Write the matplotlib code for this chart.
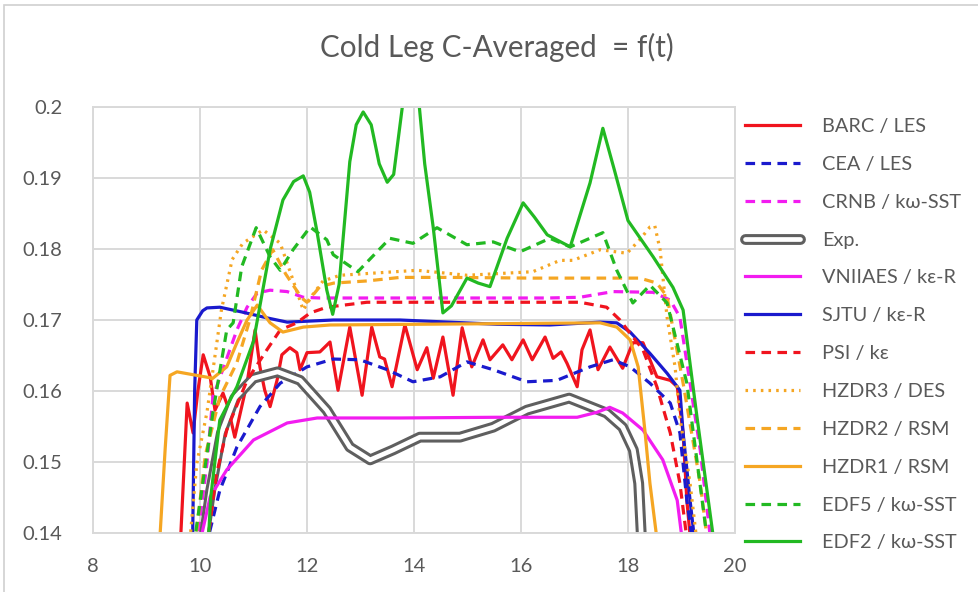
import matplotlib
matplotlib.use("Agg")
import matplotlib.pyplot as plt
from matplotlib.patches import Rectangle
from matplotlib.legend_handler import HandlerBase
from matplotlib.lines import Line2D

plt.rcParams['font.family'] = ['Lato', 'DejaVu Sans']

TXT = '#595959'
GRID = '#d9d9d9'

# ---- data: time t [s] and cold-leg averaged concentration C ----
barc_t = [9.63, 9.76, 9.87, 9.96, 10.06, 10.19, 10.28, 10.43, 10.52, 10.65, 10.88, 11.03, 11.12,
          11.21, 11.31, 11.44, 11.53, 11.68, 11.81, 11.87, 12.0, 12.24, 12.43, 12.58, 12.8, 13.03,
          13.21, 13.36, 13.45, 13.59, 13.83, 14.06, 14.24, 14.36, 14.54, 14.73, 14.9, 15.08, 15.29,
          15.42, 15.66, 15.83, 16.04, 16.21, 16.45, 16.6, 16.75, 16.86, 17.05, 17.14, 17.29, 17.44,
          17.66, 17.9, 18.09, 18.28, 18.54, 18.79, 18.92, 19.03, 19.1, 19.18]
barc_c = [0.138, 0.1583, 0.1541, 0.160, 0.1651, 0.162, 0.1573, 0.1597, 0.1578, 0.1535, 0.1611,
          0.1686, 0.1634, 0.1601, 0.1578, 0.1615, 0.1651, 0.1661, 0.1654, 0.163, 0.1654, 0.1655,
          0.1669, 0.1601, 0.169, 0.1594, 0.169, 0.1648, 0.1645, 0.1606, 0.1693, 0.163, 0.1661,
          0.1618, 0.1676, 0.1594, 0.1689, 0.1634, 0.1672, 0.1644, 0.1665, 0.1644, 0.1672, 0.1644,
          0.1676, 0.1646, 0.1655, 0.1639, 0.1606, 0.1658, 0.1686, 0.163, 0.1662, 0.1632, 0.1668,
          0.1668, 0.162, 0.1615, 0.1606, 0.1541, 0.1446, 0.138]

cea_t = [10.11, 10.37, 10.69, 11.12, 11.5, 12.0, 12.49, 12.99, 13.5, 13.98, 14.49, 14.99, 15.48,
         16.11, 16.67, 17.29, 17.72, 18.04, 18.41, 18.79, 18.97, 19.1, 19.22]
cea_c = [0.138, 0.146, 0.1521, 0.1578, 0.1611, 0.1634, 0.1645, 0.1644, 0.163, 0.1613, 0.162, 0.1641,
         0.163, 0.1613, 0.1615, 0.1634, 0.1644, 0.1634, 0.1611, 0.1583, 0.1541, 0.1446, 0.138]

crnb_t = [9.93, 10.13, 10.24, 10.69, 10.88, 11.07, 11.31, 11.63, 11.93, 12.24, 13.5, 15.0, 16.5,
          17.1, 17.72, 18.47, 18.79, 18.97, 19.16, 19.35, 19.56]
crnb_c = [0.138, 0.1498, 0.1591, 0.1686, 0.1718, 0.1738, 0.1742, 0.174, 0.1732, 0.1731, 0.1731,
          0.1731, 0.1731, 0.1732, 0.174, 0.1739, 0.1728, 0.1704, 0.1611, 0.1517, 0.138]

exp_t = [10.05, 10.2, 10.4, 10.65, 11.0, 11.45, 11.87, 12.37, 12.8, 13.18, 13.61, 14.11, 14.86,
         15.48, 16.11, 16.9, 17.6, 17.9, 18.1, 18.2, 18.26]
exp_c = [0.138, 0.146, 0.1541, 0.159, 0.1618, 0.1627, 0.1615, 0.1573, 0.1521, 0.1503, 0.1517,
         0.1535, 0.1535, 0.1549, 0.1573, 0.159, 0.1569, 0.1549, 0.1517, 0.147, 0.138]

vni_t = [9.98, 10.19, 10.5, 11.0, 11.63, 12.19, 13.74, 15.55, 17.05, 17.42, 17.66, 17.9, 18.28,
         18.65, 18.92, 19.03]
vni_c = [0.138, 0.1451, 0.1489, 0.1531, 0.1555, 0.1562, 0.1562, 0.1563, 0.1563, 0.157, 0.1577,
         0.1569, 0.1545, 0.1503, 0.1446, 0.138]

sjtu_t = [9.86, 9.9, 9.94, 10.05, 10.13, 10.37, 10.8, 11.25, 11.63, 12.49, 13.74, 15.55, 16.54,
          17.48, 17.79, 18.04, 18.41, 18.73, 18.97, 19.03, 19.16, 19.26]
sjtu_c = [0.138, 0.160, 0.170, 0.1713, 0.1717, 0.1718, 0.1711, 0.1703, 0.1697, 0.170, 0.170,
          0.1694, 0.1693, 0.1697, 0.1696, 0.1683, 0.1653, 0.1625, 0.1601, 0.1541, 0.1446, 0.138]

psi_t = [10.13, 10.3, 10.5, 10.88, 11.25, 11.5, 11.81, 12.06, 12.37, 13.12, 15.0, 17.1, 17.6,
         17.85, 18.0, 18.28, 18.54, 18.79, 18.97, 19.12]
psi_c = [0.138, 0.148, 0.1545, 0.1615, 0.1658, 0.1686, 0.1696, 0.171, 0.1718, 0.1725, 0.1725,
         0.1725, 0.1718, 0.170, 0.1685, 0.1658, 0.1606, 0.1541, 0.147, 0.138]

hz3_t = [9.8, 9.94, 10.13, 10.3, 10.4, 10.6, 10.8, 11.18, 11.5, 11.74, 11.93, 12.1, 12.3, 12.62,
         14.06, 14.99, 16.22, 16.73, 16.97, 17.48, 17.98, 18.22, 18.41, 18.5, 18.6, 18.73, 18.88,
         18.97, 19.16, 19.3]
hz3_c = [0.138, 0.1498, 0.157, 0.166, 0.1714, 0.1785, 0.1808, 0.1827, 0.1808, 0.1756, 0.1714,
         0.1735, 0.1755, 0.1763, 0.177, 0.1763, 0.1768, 0.1784, 0.1784, 0.1799, 0.1794, 0.1813,
         0.1831, 0.1833, 0.1799, 0.1704, 0.1634, 0.1563, 0.147, 0.138]

hz2_t = [9.9, 10.1, 10.37, 10.69, 10.93, 11.15, 11.36, 11.6, 11.9, 12.0, 12.24, 12.5, 13.12, 13.74,
         14.67, 16.22, 18.22, 18.54, 18.73, 19.03, 19.35, 19.5]
hz2_c = [0.138, 0.151, 0.1591, 0.164, 0.170, 0.177, 0.1799, 0.1765, 0.1731, 0.1725, 0.1747,
         0.1752, 0.1755, 0.176, 0.176, 0.1759, 0.1759, 0.1752, 0.1733, 0.1611, 0.147, 0.138]

hz1_t = [9.24, 9.35, 9.44, 9.57, 9.94, 10.24, 10.5, 10.69, 10.88, 11.07, 11.31, 11.55, 11.93, 12.43,
         17.48, 17.79, 18.04, 18.19, 18.32, 18.41, 18.56]
hz1_c = [0.138, 0.152, 0.1622, 0.1627, 0.1622, 0.1618, 0.1634, 0.1668, 0.170, 0.1721, 0.1696,
         0.1683, 0.169, 0.1693, 0.1696, 0.169, 0.1672, 0.1634, 0.1541, 0.147, 0.138]

edf5_t = [9.88, 10.24, 10.5, 10.62, 10.78, 11.05, 11.31, 11.5, 11.74, 12.06, 12.37, 12.49, 12.95,
          13.55, 13.98, 14.43, 14.99, 15.48, 15.98, 16.54, 16.92, 17.53, 17.79, 18.09, 18.41,
          18.73, 19.1, 19.5]
edf5_c = [0.138, 0.1569, 0.1686, 0.1696, 0.1775, 0.183, 0.1789, 0.177, 0.1799, 0.1831, 0.1813,
          0.1792, 0.1768, 0.1815, 0.1808, 0.183, 0.1806, 0.181, 0.1796, 0.1815, 0.1803, 0.1823,
          0.177, 0.1724, 0.1749, 0.1724, 0.1611, 0.138]

edf2_t = [10.15, 10.2, 10.37, 10.69, 11.0, 11.31, 11.55, 11.75, 11.93, 12.05, 12.19, 12.37, 12.48,
          12.6, 12.8, 12.92, 13.05, 13.2, 13.35, 13.5, 13.62, 13.78, 13.9, 14.0, 14.1, 14.2, 14.36,
          14.54, 14.7, 14.99, 15.2, 15.42, 15.74, 16.04, 16.25, 16.49, 16.92, 17.29, 17.53, 17.75,
          18.0, 18.47, 18.84, 19.03, 19.29, 19.62]
edf2_c = [0.138, 0.145, 0.1559, 0.1606, 0.167, 0.1799, 0.1869, 0.1895, 0.1903, 0.188, 0.1823,
          0.1742, 0.1708, 0.175, 0.1923, 0.1975, 0.1993, 0.1975, 0.192, 0.1894, 0.1905, 0.1999,
          0.2025, 0.2035, 0.200, 0.192, 0.183, 0.171, 0.172, 0.1759, 0.1752, 0.1747, 0.1815,
          0.1865, 0.1845, 0.182, 0.1803, 0.1893, 0.197, 0.191, 0.184, 0.1789, 0.1746, 0.1714,
          0.1563, 0.138]

labels = ['BARC / LES', 'CEA / LES', 'CRNB / kω-SST', 'Exp.', 'VNIIAES / kε-R', 'SJTU / kε-R',
          'PSI / kε', 'HZDR3 / DES', 'HZDR2 / RSM', 'HZDR1 / RSM', 'EDF5 / kω-SST', 'EDF2 / kω-SST']
x_ticks = [8, 10, 12, 14, 16, 18, 20]
y_ticks = [0.14, 0.15, 0.16, 0.17, 0.18, 0.19, 0.2]
y_ticklabels = ['0.14', '0.15', '0.16', '0.17', '0.18', '0.19', '0.2']

RED = '#f0141e'
BLUE = '#1a1acd'
MAG = '#f21cf0'
GRN = '#22b922'
ORG = '#f5a623'
GRY = '#5f5f5f'

EXP_OUT = 7.8
EXP_IN = 3.4

fig = plt.figure(figsize=(9.79, 5.92), dpi=100)
# chart-area border
fig.patches.append(Rectangle((4 / 979, -0.1), 1.2, 1.1 - 5 / 592, transform=fig.transFigure,
                             fill=False, edgecolor='#d0d0d0', lw=1.2))
ax = fig.add_axes([93 / 979, 1 - 533 / 592, (735 - 93) / 979, (533 - 107) / 592])

LW = 2.3
dash = (3.0, 2.0)
handles = []
h, = ax.plot(barc_t, barc_c, color=RED, lw=LW, solid_joinstyle='round')
handles.append(h)
h, = ax.plot(cea_t, cea_c, color=BLUE, lw=LW, dashes=dash)
handles.append(h)
h, = ax.plot(crnb_t, crnb_c, color=MAG, lw=LW, dashes=dash)
handles.append(h)
# experiment: double line (grey outline with white core)
ax.plot(exp_t, exp_c, color=GRY, lw=EXP_OUT, solid_joinstyle='round', solid_capstyle='round')
h2, = ax.plot(exp_t, exp_c, color='white', lw=EXP_IN, solid_joinstyle='round', solid_capstyle='round')


class DoubleLineHandler(HandlerBase):
    def create_artists(self, legend, orig_handle, xdescent, ydescent, width, height, fontsize, trans):
        y = height / 2 - ydescent
        a = Line2D([-xdescent, width - xdescent], [y, y], color=GRY, lw=EXP_OUT,
                   solid_capstyle='round', transform=trans)
        b = Line2D([-xdescent, width - xdescent], [y, y], color='white', lw=EXP_IN,
                   solid_capstyle='round', transform=trans)
        return [a, b]


handles.append(h2)
h, = ax.plot(vni_t, vni_c, color=MAG, lw=LW)
handles.append(h)
h, = ax.plot(sjtu_t, sjtu_c, color=BLUE, lw=LW, solid_joinstyle='round')
handles.append(h)
h, = ax.plot(psi_t, psi_c, color=RED, lw=LW, dashes=dash)
handles.append(h)
h, = ax.plot(hz3_t, hz3_c, color=ORG, lw=LW, dashes=(0.8, 1.6))
handles.append(h)
h, = ax.plot(hz2_t, hz2_c, color=ORG, lw=LW, dashes=dash)
handles.append(h)
h, = ax.plot(hz1_t, hz1_c, color=ORG, lw=LW, solid_joinstyle='round')
handles.append(h)
h, = ax.plot(edf5_t, edf5_c, color=GRN, lw=LW, dashes=dash)
handles.append(h)
h, = ax.plot(edf2_t, edf2_c, color=GRN, lw=LW, solid_joinstyle='round')
handles.append(h)

ax.set_xlim(8, 20)
ax.set_ylim(0.14, 0.2)
ax.set_xticks(x_ticks)
ax.set_yticks(y_ticks)
ax.set_yticklabels(y_ticklabels)
ax.grid(True, color=GRID, lw=1.4)
ax.set_axisbelow(True)
for s in ax.spines.values():
    s.set_color(GRID)
    s.set_linewidth(1.4)
ax.tick_params(length=0, labelsize=14.5, colors=TXT)
ax.tick_params(axis='x', pad=18)
ax.tick_params(axis='y', pad=22)

fig.text(497 / 979, 1 - 47 / 592, 'Cold Leg C-Averaged  = f(t)', ha='center', va='center',
         fontsize=21.3, color=TXT)

leg = fig.legend(handles, labels, loc='upper left', bbox_to_anchor=(745 / 979, 1 - 118 / 592),
                 frameon=False, fontsize=14.3, labelcolor=TXT, handlelength=2.75, handletextpad=1.15,
                 labelspacing=1.05, borderaxespad=0, borderpad=0,
                 handler_map={h2: DoubleLineHandler()})

fig.savefig('out.png', dpi=100)
